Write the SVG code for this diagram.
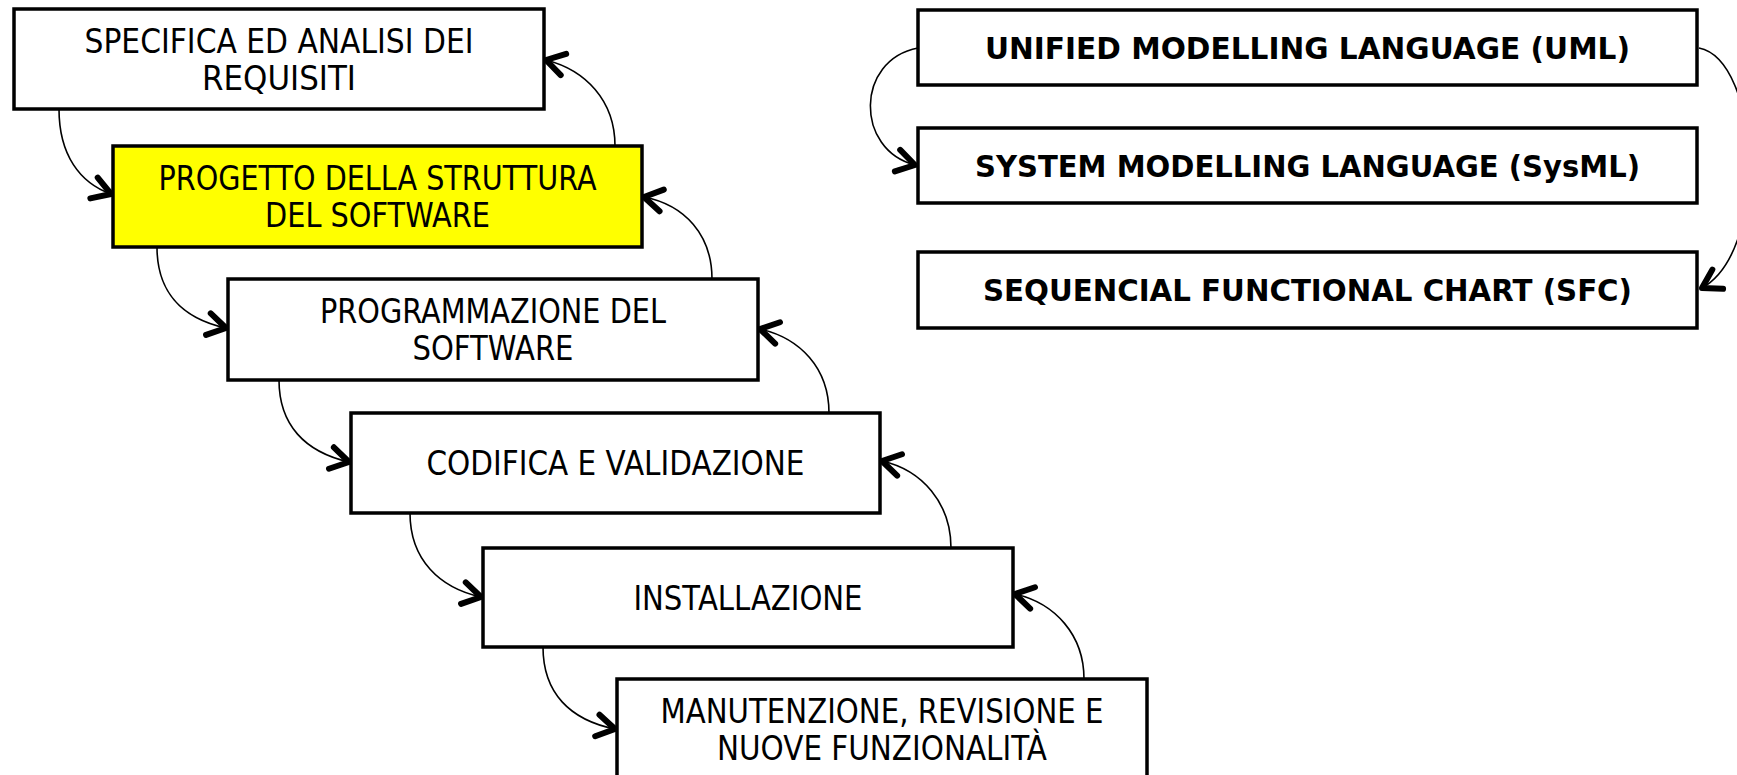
<svg xmlns="http://www.w3.org/2000/svg" width="1737" height="775" viewBox="0 0 1737 775">
<style>
.box{fill:#ffffff;stroke:#000000;stroke-width:3.5;}
.hl{fill:#ffff00;}
.t{font-family:"DejaVu Sans","Liberation Sans",sans-serif;font-size:33px;fill:#000;text-anchor:middle;}
.b{font-family:"DejaVu Sans","Liberation Sans",sans-serif;font-size:31px;font-weight:bold;fill:#000;text-anchor:middle;}
.c{fill:none;stroke:#000;stroke-width:1.6;}
</style>
<defs>
<marker id="ah" markerUnits="userSpaceOnUse" orient="auto" refX="0" refY="0" markerWidth="40" markerHeight="40" viewBox="-30 -20 40 40" overflow="visible">
<path d="M-18,-11 L0,0 L-18,11" fill="none" stroke="#000" stroke-width="6" stroke-linecap="round" stroke-linejoin="round"/>
</marker>
</defs>
<rect width="1737" height="775" fill="#ffffff"/>
<g id="connectors">
<path class="c" d="M59,109 C59,155 80,183 111,194" marker-end="url(#ah)"/>
<path class="c" d="M157,247 C157,290 180,318 226,328" marker-end="url(#ah)"/>
<path class="c" d="M279,380 C279,425 305,452 349,462" marker-end="url(#ah)"/>
<path class="c" d="M410,513 C410,560 440,588 481,597" marker-end="url(#ah)"/>
<path class="c" d="M543,647 C543,693 570,720 615,729" marker-end="url(#ah)"/>
<path class="c" d="M615,146 C615,100 585,70 546,60" marker-end="url(#ah)"/>
<path class="c" d="M712,279 C712,235 685,205 644,197" marker-end="url(#ah)"/>
<path class="c" d="M829,413 C829,368 800,338 760,329" marker-end="url(#ah)"/>
<path class="c" d="M951,548 C951,503 922,470 882,461" marker-end="url(#ah)"/>
<path class="c" d="M1084,679 C1084,635 1055,603 1015,594" marker-end="url(#ah)"/>
<path class="c" d="M918,48 C855,60 855,150 915,165" marker-end="url(#ah)"/>
<path class="c" d="M1699,48 C1760,60 1770,250 1702,288" marker-end="url(#ah)"/>
</g>
<g id="n1">
<rect class="box" x="14" y="9" width="530" height="100"/>
<text class="t" x="279" y="53" textLength="389" lengthAdjust="spacingAndGlyphs">SPECIFICA ED ANALISI DEI</text>
<text class="t" x="279" y="90" textLength="154" lengthAdjust="spacingAndGlyphs">REQUISITI</text>
</g>
<g id="n2">
<rect class="box hl" x="113" y="146" width="529" height="101"/>
<text class="t" x="377.5" y="190" textLength="438" lengthAdjust="spacingAndGlyphs">PROGETTO DELLA STRUTTURA</text>
<text class="t" x="377.5" y="227" textLength="225" lengthAdjust="spacingAndGlyphs">DEL SOFTWARE</text>
</g>
<g id="n3">
<rect class="box" x="228" y="279" width="530" height="101"/>
<text class="t" x="493" y="323" textLength="346" lengthAdjust="spacingAndGlyphs">PROGRAMMAZIONE DEL</text>
<text class="t" x="493" y="360" textLength="161" lengthAdjust="spacingAndGlyphs">SOFTWARE</text>
</g>
<g id="n4">
<rect class="box" x="351" y="413" width="529" height="100"/>
<text class="t" x="615.5" y="475" textLength="378" lengthAdjust="spacingAndGlyphs">CODIFICA E VALIDAZIONE</text>
</g>
<g id="n5">
<rect class="box" x="483" y="548" width="530" height="99"/>
<text class="t" x="748" y="610" textLength="229" lengthAdjust="spacingAndGlyphs">INSTALLAZIONE</text>
</g>
<g id="n6">
<rect class="box" x="617" y="679" width="530" height="110"/>
<text class="t" x="882" y="723" textLength="443" lengthAdjust="spacingAndGlyphs">MANUTENZIONE, REVISIONE E</text>
<text class="t" x="882" y="760" textLength="330" lengthAdjust="spacingAndGlyphs">NUOVE FUNZIONALITÀ</text>
</g>
<g id="uml">
<rect class="box" x="918" y="10" width="779" height="75"/>
<text class="b" x="1307.5" y="59" textLength="645" lengthAdjust="spacingAndGlyphs">UNIFIED MODELLING LANGUAGE (UML)</text>
</g>
<g id="sysml">
<rect class="box" x="918" y="128" width="779" height="75"/>
<text class="b" x="1307.5" y="177" textLength="665" lengthAdjust="spacingAndGlyphs">SYSTEM MODELLING LANGUAGE (SysML)</text>
</g>
<g id="sfc">
<rect class="box" x="918" y="252" width="779" height="76"/>
<text class="b" x="1307.5" y="301" textLength="649" lengthAdjust="spacingAndGlyphs">SEQUENCIAL FUNCTIONAL CHART (SFC)</text>
</g>
</svg>
